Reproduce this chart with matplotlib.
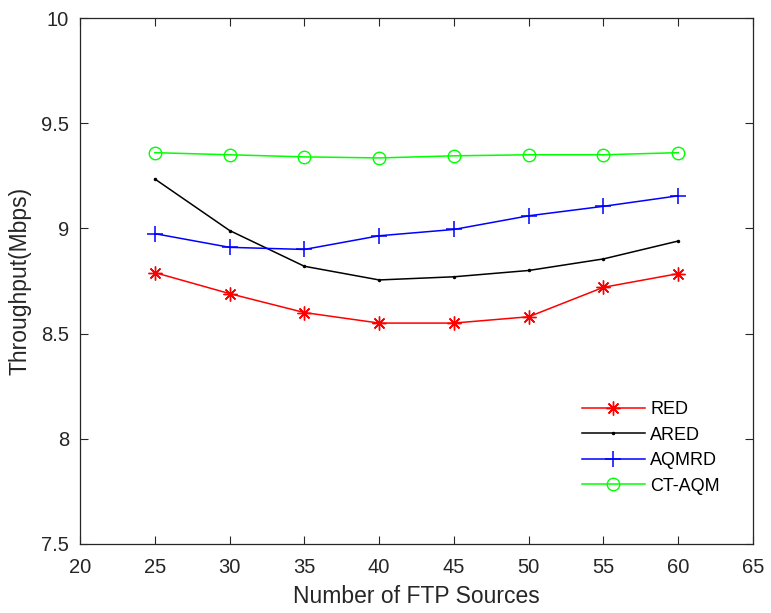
import matplotlib
matplotlib.use("Agg")
import matplotlib.pyplot as plt

plt.rcParams['font.family'] = ['Liberation Sans', 'DejaVu Sans']

sources = [25, 30, 35, 40, 45, 50, 55, 60]
red = [8.79, 8.69, 8.60, 8.55, 8.55, 8.58, 8.72, 8.785]
ared = [9.235, 8.99, 8.82, 8.755, 8.77, 8.80, 8.855, 8.94]
aqmrd = [8.975, 8.91, 8.90, 8.965, 8.995, 9.06, 9.105, 9.155]
ctaqm = [9.36, 9.35, 9.34, 9.335, 9.345, 9.35, 9.35, 9.36]

fig = plt.figure(figsize=(7.71, 6.13), dpi=100)
ax = fig.add_axes([0.1038, 0.1126, 0.8729, 0.858])

# asterisk with 8 spokes, like matlab's '*'
ax.plot(sources, red, color='#ff0000', marker=(8, 2, 0), markersize=10, lw=1.1,
        markeredgewidth=1.0, label='RED')
ax.plot(sources, ared, color='black', marker='.', markersize=3, lw=1.1, label='ARED')
ax.plot(sources, aqmrd, color='#0000ff', marker='+', markersize=12, lw=1.1,
        markeredgewidth=1.1, label='AQMRD')
ax.plot(sources, ctaqm, color='#00ff00', marker='o', markersize=9, lw=1.1,
        markerfacecolor='none', label='CT-AQM')

ax.set_xlim(20, 65)
ax.set_ylim(7.5, 10)
ax.set_xticks(range(20, 66, 5))
ax.set_yticks([7.5, 8, 8.5, 9, 9.5, 10])
ax.set_yticklabels(['7.5', '8', '8.5', '9', '9.5', '10'])
ax.tick_params(direction='in', top=True, right=True, labelsize=14.5, length=6,
               width=0.8, colors='#262626')
ax.tick_params(axis='x', pad=10)
ax.tick_params(axis='y', pad=8)
for s in ax.spines.values():
    s.set_color('#262626')
    s.set_linewidth(0.9)

ax.set_xlabel('Number of FTP Sources', fontsize=16.5, color='#262626', labelpad=6)
ax.set_ylabel('Throughput(Mbps)', fontsize=16.5, color='#262626', labelpad=7)

ax.legend(loc='lower right', bbox_to_anchor=(0.975, 0.063), frameon=False,
          fontsize=13, handlelength=3.5, handletextpad=0.3, labelspacing=0.47)

fig.savefig('out.png', dpi=100)
